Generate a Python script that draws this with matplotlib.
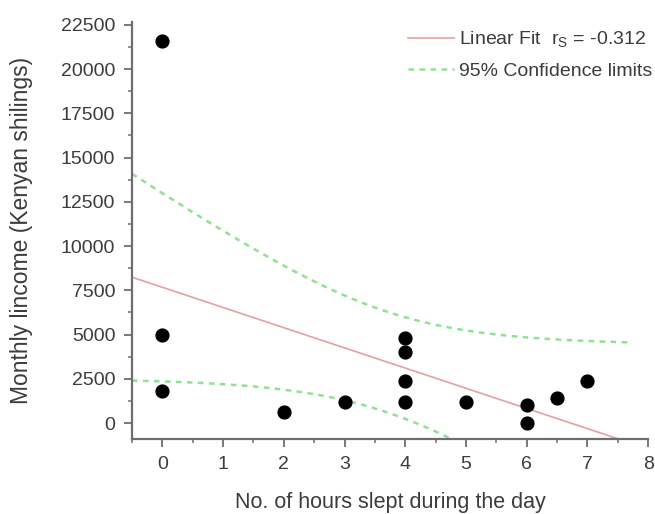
import matplotlib
matplotlib.use('Agg')
import matplotlib.pyplot as plt
from matplotlib.ticker import MultipleLocator
import numpy as np

plt.rcParams['font.family'] = ['Liberation Sans', 'DejaVu Sans']

# hours slept during the day vs monthly income
hours = [0, 0, 0, 2, 3, 4, 4, 4, 4, 5, 6, 6, 6.5, 7]
income = [21600, 5000, 1800, 600, 1200, 4800, 4000, 2400, 1200, 1200, 1000, 0, 1400, 2400]
t_crit = 2.179  # t(0.975, n-2) for n = 14

x = np.array(hours, dtype=float)
y = np.array(income, dtype=float)
n = len(x)
slope, icpt = np.polyfit(x, y, 1)
resid = y - (slope * x + icpt)
s = np.sqrt(np.sum(resid ** 2) / (n - 2))
sxx = np.sum((x - x.mean()) ** 2)

xs = np.linspace(-0.5, 7.7, 200)
fit = slope * xs + icpt
half = t_crit * s * np.sqrt(1.0 / n + (xs - x.mean()) ** 2 / sxx)

fig = plt.figure(figsize=(6.55, 5.14), dpi=100)
ax = fig.add_axes([0.2015, 0.146, 0.788, 0.811])

txt = '#3c3c3c'
axc = '#6e6e6e'
red = '#e6a0a0'
green = '#8ee38e'

ax.plot(xs, fit, color=red, lw=1.2, label=r'Linear Fit  r$_\mathregular{S}$ = -0.312')
ax.plot(xs, fit + half, color=green, lw=1.8, ls=(0, (2.2, 2.2)), label='95% Confidence limits')
ax.plot(xs, fit - half, color=green, lw=1.8, ls=(0, (2.2, 2.2)))
ax.scatter(x, y, s=85, color='black', zorder=5)

ax.set_xlim(-0.5, 8)
ax.set_ylim(-900, 22650)
ax.set_xticks([0, 1, 2, 3, 4, 5, 6, 7, 8])
ax.set_yticks(np.arange(0, 22501, 2500))
ax.xaxis.set_minor_locator(MultipleLocator(0.5))
ax.yaxis.set_minor_locator(MultipleLocator(1250))

for side in ['top', 'right']:
    ax.spines[side].set_visible(False)
for side in ['left', 'bottom']:
    ax.spines[side].set_color(axc)
    ax.spines[side].set_linewidth(1.6)
ax.tick_params(which='major', direction='out', length=6, width=1.3, color=axc,
               labelsize=14, labelcolor=txt, pad=6)
ax.tick_params(which='minor', direction='out', length=3, width=1.1, color=axc)

ax.set_xlabel('No. of hours slept during the day', fontsize=15.5, color=txt, labelpad=14)
ax.set_ylabel('Monthly lincome (Kenyan shilings)', fontsize=16.5, color=txt, labelpad=20)

leg = fig.legend(loc='upper left', frameon=False, fontsize=14, handlelength=2.4,
                 handletextpad=0.25, labelspacing=0.65, borderpad=0,
                 bbox_to_anchor=(398 / 655, 1 - 20 / 514))
for t in leg.get_texts():
    t.set_color(txt)

fig.savefig('out.png', dpi=100)
